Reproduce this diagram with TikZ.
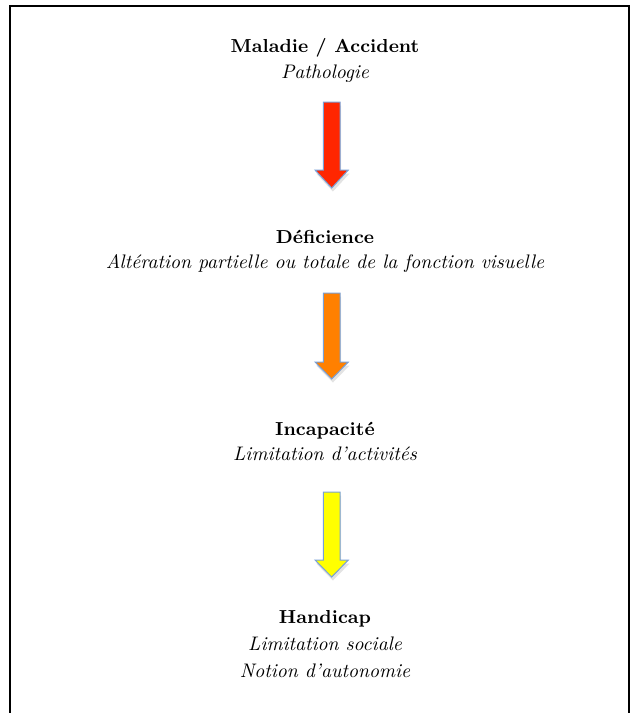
\documentclass[tikz,border=0pt]{standalone}
\usetikzlibrary{shadows}
\definecolor{arrowblue}{RGB}{120,160,215}
\definecolor{arrowred}{RGB}{255,38,0}
\definecolor{arroworange}{RGB}{255,128,0}
\definecolor{arrowyellow}{RGB}{255,255,0}
\begin{document}
\begin{tikzpicture}[x=0.5pt,y=-0.5pt,
  titletext/.style={font=\fontsize{9.4}{12}\selectfont\bfseries, anchor=base, inner sep=0pt},
  subtext/.style={font=\fontsize{9.8}{12}\selectfont\itshape, anchor=base, inner sep=0pt},
  blockarrow/.style={draw=arrowblue, line width=0.5pt, line join=miter,
    drop shadow={opacity=0.22, shadow xshift=0.6pt, shadow yshift=-1.8pt}}]
\useasboundingbox (0,0) rectangle (630,713);
% frame (bottom edge lies outside the picture)
\coordinate (fbl) at (9.5,730);
\coordinate (ftl) at (9.5,5.5);
\coordinate (ftr) at (628.5,5.5);
\coordinate (fbr) at (628.5,730);
\draw[line width=1pt] (fbl) -- (ftl) -- (ftr) -- (fbr);
% texts
\node[titletext] (t1) at (325,52) {Maladie / Accident};
\node[subtext]   (s1) at (325,78) {Pathologie};
\node[titletext] (t2) at (325,243) {Déficience};
\node[subtext]   (s2) at (325,268) {Altération partielle ou totale de la fonction visuelle};
\node[titletext] (t3) at (325,435) {Incapacité};
\node[subtext]   (s3) at (325,460) {Limitation d’activités};
\node[titletext] (t4) at (325,623) {Handicap};
\node[subtext]   (s4) at (325,650) {Limitation sociale};
\node[subtext]   (s5) at (325,677) {Notion d’autonomie};
% block arrows
\filldraw[blockarrow, fill=arrowred] (323.3,102) -- (340,102) -- (340,170) -- (348.3,170) -- (331.7,188) -- (315,170) -- (323.3,170) -- cycle;
\filldraw[blockarrow, fill=arroworange] (323.3,293) -- (340,293) -- (340,362) -- (348.3,362) -- (331.7,379) -- (315,362) -- (323.3,362) -- cycle;
\filldraw[blockarrow, fill=arrowyellow] (323.3,492) -- (340,492) -- (340,560) -- (348.3,560) -- (331.7,577) -- (315,560) -- (323.3,560) -- cycle;
\end{tikzpicture}
\end{document}
